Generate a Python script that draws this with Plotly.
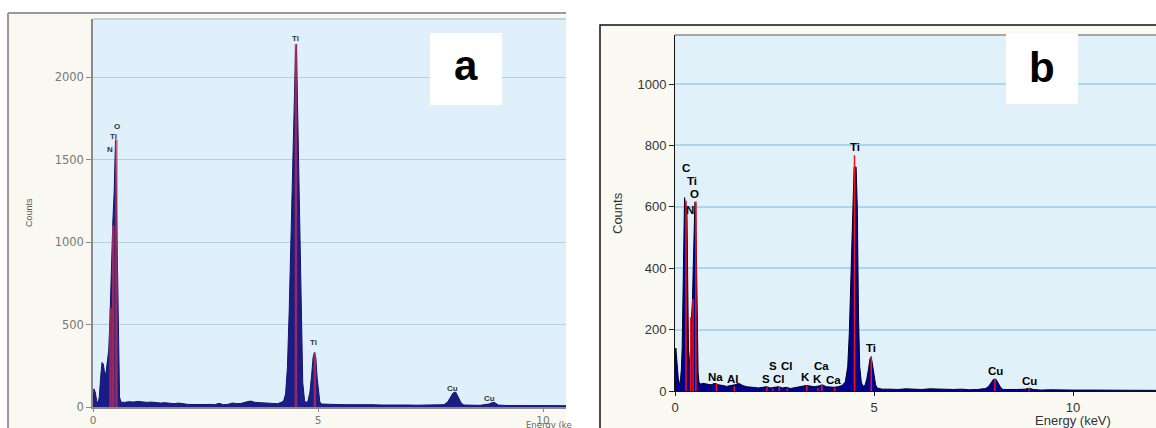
import plotly.graph_objects as go

W, H = 1156, 428

# ---------------- Panel a data ----------------
energy_a = [0.00, 0.02, 0.05, 0.08, 0.11, 0.14, 0.17, 0.20, 0.23, 0.26, 0.29, 0.32, 0.35, 0.38,
            0.41, 0.44, 0.47, 0.50, 0.53, 0.56, 0.59, 0.62,
            0.7, 0.8, 0.9, 1.0, 1.1, 1.2, 1.3, 1.4, 1.5, 1.6, 1.7, 1.8, 1.9, 2.0, 2.1, 2.2, 2.3,
            2.4, 2.5, 2.6, 2.7, 2.8, 2.9, 3.0, 3.1, 3.2, 3.3, 3.4, 3.5, 3.6, 3.7, 3.8, 3.9, 4.0,
            4.1, 4.2, 4.24, 4.28, 4.32, 4.36, 4.40, 4.43, 4.46, 4.48, 4.50, 4.52, 4.54, 4.57,
            4.60, 4.63, 4.66, 4.70, 4.74, 4.78, 4.82, 4.86, 4.89, 4.92, 4.95, 4.98, 5.01, 5.04,
            5.08, 5.2, 5.4, 5.6, 5.8, 6.0, 6.2, 6.4, 6.6, 6.8, 7.0, 7.2, 7.4, 7.6, 7.8, 7.88,
            7.94, 8.00, 8.06, 8.12, 8.18, 8.24, 8.4, 8.6, 8.8, 8.88, 8.94, 9.0, 9.2, 9.4, 9.6,
            9.8, 10.0, 10.2, 10.4, 10.51]
counts_a = [0, 110, 90, 40, 20, 60, 180, 270, 260, 200, 210, 300, 345, 560,
            880, 1120, 1300, 1620, 1100, 400, 60, 30,
            28, 32, 30, 34, 30, 28, 30, 26, 24, 26, 22, 20, 24, 18, 16, 15, 14,
            14, 15, 16, 14, 22, 14, 16, 24, 20, 22, 30, 36, 28, 26, 24, 22, 22,
            20, 30, 40, 80, 240, 590, 1090, 1330, 1690, 1910, 2150, 2200, 1900, 1330,
            810, 425, 150, 40, 25, 40, 90, 200, 300, 330, 300, 180, 80, 30,
            18, 16, 15, 14, 15, 13, 14, 12, 13, 12, 12, 11, 12, 11, 14, 30,
            60, 85, 90, 55, 25, 12, 10, 10, 18, 28, 25, 12, 9, 9, 8,
            9, 8, 8, 8, 8]

lines_a_energy = [0.39, 0.45, 0.52, 4.51, 4.93]
lines_a_height = [600, 1100, 1620, 2200, 330]

labels_a_text = ["O", "Ti", "N", "Ti", "Ti", "Cu", "Cu"]
labels_a_x = [0.53, 0.45, 0.37, 4.49, 4.91, 7.98, 8.80]
labels_a_y = [1700, 1640, 1560, 2235, 390, 115, 50]

# ---------------- Panel b data ----------------
energy_b = [0.00, 0.02, 0.04, 0.06, 0.08, 0.10, 0.12, 0.14, 0.16, 0.18, 0.20, 0.22, 0.24, 0.26,
            0.28, 0.30, 0.32, 0.34, 0.36, 0.38, 0.40, 0.42, 0.44, 0.46, 0.48, 0.50, 0.52, 0.54,
            0.56, 0.58, 0.60, 0.64,
            0.7, 0.8, 0.9, 1.0, 1.1, 1.2, 1.3, 1.4, 1.5, 1.6, 1.7, 1.8, 1.9, 2.0, 2.1, 2.2, 2.3,
            2.4, 2.5, 2.6, 2.7, 2.8, 2.9, 3.0, 3.1, 3.2, 3.3, 3.4, 3.5, 3.6, 3.7, 3.8, 3.9, 4.0,
            4.1, 4.2, 4.28, 4.34, 4.38, 4.42, 4.46, 4.50, 4.55, 4.58, 4.61, 4.64, 4.68, 4.72,
            4.78, 4.82, 4.86, 4.90, 4.93, 4.96, 5.00, 5.04, 5.08, 5.2, 5.4, 5.6, 5.8, 6.0, 6.2,
            6.4, 6.6, 6.8, 7.0, 7.2, 7.4, 7.6, 7.8, 7.88, 7.94, 8.00, 8.06, 8.12, 8.18, 8.24,
            8.4, 8.6, 8.8, 8.9, 9.0, 9.2, 9.4, 9.6, 9.8, 10.0, 10.5, 11.0, 11.5, 12.085]
counts_b = [60, 140, 110, 70, 45, 30, 15, 40, 70, 140, 350, 575, 630, 610,
            600, 580, 200, 120, 90, 130, 150, 250, 300, 410, 540, 615, 610, 360,
            145, 60, 30, 22,
            25, 22, 20, 25, 20, 18, 15, 18, 20, 25, 18, 14, 12, 12, 10, 12, 14,
            10, 12, 14, 10, 12, 8, 10, 14, 15, 18, 16, 14, 16, 20, 14, 12, 12,
            14, 18, 30, 80, 190, 370, 580, 730, 730, 600, 250, 80, 30, 15,
            20, 40, 70, 105, 112, 90, 50, 20, 10, 6, 6, 5, 7, 6, 5,
            7, 6, 4, 5, 6, 4, 5, 8, 15, 28, 38, 39, 25, 12, 5,
            4, 5, 6, 9, 5, 3, 4, 3, 4, 3, 3, 3, 2, 2]

lines_b_energy = [0.277, 0.392, 0.452, 0.525, 1.04, 1.49, 2.31, 2.46, 2.62, 2.82, 3.31, 3.59,
                  3.69, 4.01, 4.51, 4.93, 8.04, 8.90]
lines_b_height = [620, 240, 300, 618, 25, 15, 12, 8, 14, 8, 18, 10, 20, 10, 768, 112, 39, 10]

labels_b_text = ["C", "Ti", "O", "N", "Na", "Al", "S", "Cl", "S", "Cl", "K", "Ca", "K", "Ca",
                 "Ti", "Ti", "Cu", "Cu"]
labels_b_x = [0.28, 0.43, 0.50, 0.38, 1.01, 1.46, 2.46, 2.81, 2.29, 2.61, 3.29, 3.67, 3.57, 3.97,
              4.51, 4.93, 8.04, 8.90]
labels_b_y = [726, 683, 642, 590, 46, 39, 81, 81, 39, 39, 46, 81, 39, 36,
              795, 140, 65, 33]


def stems(energies, heights):
    xs, ys = [], []
    for e, h in zip(energies, heights):
        xs += [e, e, None]
        ys += [0, h, None]
    return xs, ys


fig = go.Figure()

# Panel a spectrum
fig.add_trace(go.Scatter(x=energy_a, y=counts_a, mode="lines", fill="tozeroy",
                         line=dict(color="#14146e", width=1), fillcolor="#1c1c86",
                         xaxis="x", yaxis="y", hoverinfo="skip", showlegend=False))
sx, sy = stems(lines_a_energy, lines_a_height)
fig.add_trace(go.Scatter(x=sx, y=sy, mode="lines",
                         line=dict(color="rgba(200,50,80,0.7)", width=2.5),
                         xaxis="x", yaxis="y", hoverinfo="skip", showlegend=False))

# Panel b spectrum
fig.add_trace(go.Scatter(x=energy_b, y=counts_b, mode="lines", fill="tozeroy",
                         line=dict(color="#000020", width=1), fillcolor="#00008f",
                         xaxis="x2", yaxis="y2", hoverinfo="skip", showlegend=False))
sx, sy = stems(lines_b_energy, lines_b_height)
fig.add_trace(go.Scatter(x=sx, y=sy, mode="lines",
                         line=dict(color="#ff1010", width=1.5),
                         xaxis="x2", yaxis="y2", hoverinfo="skip", showlegend=False))

annotations = []
for t, x, y in zip(labels_a_text, labels_a_x, labels_a_y):
    annotations.append(dict(text=f"<b>{t}</b>", x=x, y=y, xref="x", yref="y", showarrow=False,
                            xanchor="center", yanchor="middle",
                            font=dict(family="Liberation Sans", size=8, color="#333333")))
for t, x, y in zip(labels_b_text, labels_b_x, labels_b_y):
    annotations.append(dict(text=f"<b>{t}</b>", x=x, y=y, xref="x2", yref="y2", showarrow=False,
                            xanchor="center", yanchor="middle",
                            font=dict(family="Liberation Sans", size=11.5, color="#000000")))


def py(pix):
    return 1 - pix / H


def px(pix):
    return pix / W


annotations += [
    dict(text="<b>a</b>", x=px(466), y=py(66), xref="paper", yref="paper", showarrow=False,
         xanchor="center", yanchor="middle",
         font=dict(family="Liberation Sans", size=42, color="black")),
    dict(text="<b>b</b>", x=px(1042), y=py(67), xref="paper", yref="paper", showarrow=False,
         xanchor="center", yanchor="middle",
         font=dict(family="Liberation Sans", size=42, color="black")),
    dict(text="Counts", x=px(29), y=py(213), xref="paper", yref="paper", showarrow=False,
         xanchor="center", yanchor="middle", textangle=-90,
         font=dict(family="Liberation Sans", size=9, color="#555555")),
    dict(text="Counts", x=px(617), y=py(213), xref="paper", yref="paper", showarrow=False,
         xanchor="center", yanchor="middle", textangle=-90,
         font=dict(family="Liberation Sans", size=13, color="#333333")),
    dict(text="Energy (ke", x=px(524), y=py(425), xref="paper", yref="paper", showarrow=False,
         xanchor="left", yanchor="middle",
         font=dict(family="DejaVu Sans", size=8.5, color="#666666")),
    dict(text="Energy (keV)", x=px(1073), y=py(420), xref="paper", yref="paper", showarrow=False,
         xanchor="center", yanchor="middle",
         font=dict(family="Liberation Sans", size=13, color="#333333")),
]

shapes = [
    # panel a outer frame
    dict(type="rect", xref="paper", yref="paper", x0=px(8), x1=px(566), y0=-0.05, y1=py(13),
         fillcolor="#f9f9f1", line=dict(width=0), layer="below"),
    dict(type="line", xref="paper", yref="paper", x0=px(8), x1=px(566), y0=py(13), y1=py(13),
         line=dict(color="#9a9a9a", width=2), layer="below"),
    dict(type="line", xref="paper", yref="paper", x0=px(8), x1=px(8), y0=-0.05, y1=py(13),
         line=dict(color="#9a9a9a", width=2), layer="below"),
    # panel a plot area
    dict(type="rect", xref="paper", yref="paper", x0=px(93), x1=px(566), y0=py(407), y1=py(19),
         fillcolor="#dff0fa", line=dict(width=0), layer="below"),
    dict(type="line", xref="paper", yref="paper", x0=px(93), x1=px(566), y0=py(19), y1=py(19),
         line=dict(color="#b4c4cc", width=1.5), layer="below"),
    # panel b outer frame
    dict(type="rect", xref="paper", yref="paper", x0=px(600), x1=1.05, y0=-0.05, y1=py(25),
         fillcolor="#fafaf3", line=dict(color="#111111", width=1.5), layer="below"),
    # panel b plot area
    dict(type="rect", xref="paper", yref="paper", x0=px(675), x1=1.0, y0=py(391), y1=py(35),
         fillcolor="#e0f1fa", line=dict(width=0), layer="below"),
    dict(type="line", xref="paper", yref="paper", x0=px(675), x1=1.0, y0=py(35), y1=py(35),
         line=dict(color="#8c8c8c", width=1.5), layer="below"),
    # white label boxes
    dict(type="rect", xref="paper", yref="paper", x0=px(430), x1=px(502), y0=py(105), y1=py(33),
         fillcolor="white", line=dict(width=0), layer="above"),
    dict(type="rect", xref="paper", yref="paper", x0=px(1006), x1=px(1078), y0=py(104), y1=py(33),
         fillcolor="white", line=dict(width=0), layer="above"),
]

fig.update_layout(
    width=W, height=H, margin=dict(l=0, r=0, t=0, b=0, autoexpand=False),
    paper_bgcolor="white", plot_bgcolor="rgba(0,0,0,0)",
    showlegend=False,
    xaxis=dict(domain=[px(93), px(566)], range=[0, 10.51], tickvals=[0, 5, 10],
               ticks="outside", ticklen=3, tickcolor="#888888", showline=True,
               linecolor="#8a8a8a", linewidth=1.5, showgrid=False, zeroline=False,
               tickfont=dict(family="DejaVu Sans", size=10.5, color="#777777"), anchor="y",
               fixedrange=True, automargin=False),
    yaxis=dict(domain=[py(407), py(19)], range=[0, 2352], tickvals=[0, 500, 1000, 1500, 2000],
               ticks="outside", ticklen=5, tickcolor="#888888", showline=True,
               linecolor="#8a8a8a", linewidth=1.5, showgrid=True, gridcolor="#b6d0dd",
               gridwidth=1, zeroline=False,
               tickfont=dict(family="DejaVu Sans", size=11.5, color="#777777"), anchor="x",
               fixedrange=True, automargin=False),
    xaxis2=dict(domain=[px(675), 1.0], range=[0, 12.085], tickvals=[0, 5, 10],
                ticks="outside", ticklen=4, tickcolor="#222222", showline=True,
                linecolor="#111111", linewidth=1, showgrid=False, zeroline=False,
                tickfont=dict(family="Liberation Sans", size=13, color="#333333"), anchor="y2",
                fixedrange=True, automargin=False),
    yaxis2=dict(domain=[py(391), py(35)], range=[0, 1160],
                tickvals=[0, 200, 400, 600, 800, 1000],
                ticks="outside", ticklen=5, tickcolor="#222222", showline=True,
                linecolor="#111111", linewidth=1, showgrid=True, gridcolor="#a9d9ef",
                gridwidth=2, zeroline=False,
                tickfont=dict(family="Liberation Sans", size=13, color="#333333"), anchor="x2",
                fixedrange=True, automargin=False),
    annotations=annotations,
    shapes=shapes,
)

fig.write_html("out.html", config={"displayModeBar": False},
               post_script="document.body.style.margin='0';document.body.style.padding='0';"
                           "document.body.style.overflow='hidden';")
